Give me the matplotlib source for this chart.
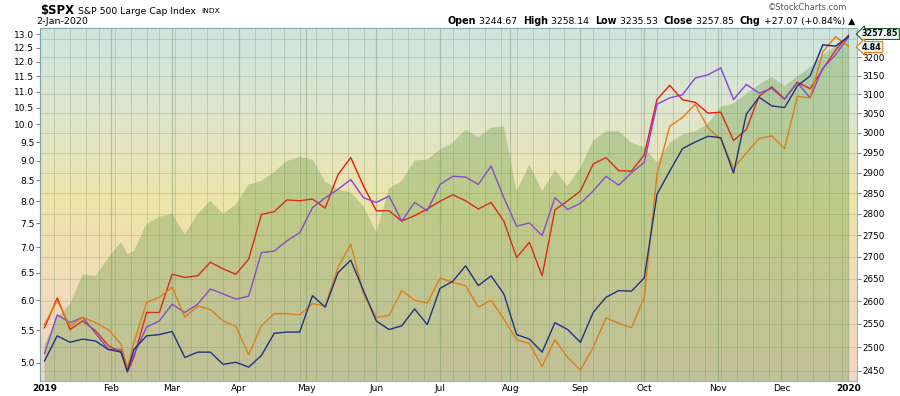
import numpy as np
import pandas as pd
import matplotlib
matplotlib.use("Agg")
import matplotlib.pyplot as plt
from matplotlib.colors import LinearSegmentedColormap

plt.rcParams['font.family'] = ['DejaVu Sans']

# ---------------- data ----------------
holidays = ['2019-01-21', '2019-02-18', '2019-04-19', '2019-05-27', '2019-07-04',
            '2019-09-02', '2019-11-28', '2019-12-25', '2020-01-01']
sample_idx = sorted(list(range(0, 253, 4)) + [26])   # trading-day positions of samples

spx = [2506, 2564, 2593, 2660, 2656, 2698, 2733, 2706, 2713, 2776, 2793, 2800, 2752, 2800,
       2831, 2800, 2823, 2871, 2880, 2902, 2929, 2939, 2933, 2878, 2859, 2851, 2819, 2756,
       2861, 2880, 2930, 2933, 2958, 2975, 3008, 2989, 3013, 3017, 2855, 2920, 2855, 2906,
       2868, 2912, 2980, 3004, 3004, 2975, 2963, 2925, 2975, 2996, 3004, 3023, 3067, 3076,
       3101, 3126, 3146, 3122, 3148, 3172, 3206, 3229, 3257.85]

red = [5.54, 6.04, 5.51, 5.65, 5.49, 5.26, 5.16, 4.87, 5.08, 5.79, 5.79, 6.47, 6.41, 6.44,
       6.70, 6.57, 6.47, 6.76, 7.70, 7.76, 8.03, 8.01, 8.05, 7.84, 8.64, 9.08, 8.36, 7.78,
       7.78, 7.55, 7.67, 7.82, 8.00, 8.15, 8.01, 7.82, 7.97, 7.55, 6.79, 7.10, 6.44, 7.80,
       8.01, 8.24, 8.91, 9.08, 8.74, 8.73, 9.15, 10.75, 11.2, 10.74, 10.66, 10.33, 10.36,
       9.54, 9.85, 10.85, 11.15, 10.77, 11.3, 11.09, 11.74, 12.41, 12.95]

purple = [5.14, 5.75, 5.62, 5.71, 5.45, 5.20, 5.20, 4.88, 5.12, 5.55, 5.65, 5.93, 5.79, 5.93,
          6.20, 6.11, 6.02, 6.07, 6.89, 6.92, 7.13, 7.30, 7.85, 8.08, 8.28, 8.52, 8.08, 7.97,
          8.12, 7.55, 7.97, 7.78, 8.40, 8.60, 8.58, 8.40, 8.86, 8.08, 7.44, 7.51, 7.24, 8.08,
          7.81, 7.95, 8.24, 8.60, 8.38, 8.69, 8.95, 10.6, 10.8, 10.9, 11.44, 11.55, 11.78,
          10.75, 11.23, 10.95, 11.1, 10.75, 11.29, 10.8, 11.78, 12.24, 12.88]

orange = [5.59, 6.00, 5.56, 5.71, 5.62, 5.51, 5.28, 4.93, 5.30, 5.96, 6.05, 6.23, 5.71, 5.90,
          5.84, 5.65, 5.56, 5.12, 5.57, 5.77, 5.77, 5.75, 5.94, 5.90, 6.60, 7.06, 6.11, 5.71,
          5.74, 6.17, 6.00, 5.95, 6.40, 6.32, 6.26, 5.88, 6.00, 5.68, 5.35, 5.29, 4.95, 5.35,
          5.08, 4.90, 5.23, 5.70, 5.61, 5.54, 6.05, 8.64, 9.95, 10.2, 10.6, 9.9, 9.57, 8.8,
          9.2, 9.6, 9.67, 9.32, 10.85, 10.8, 12.35, 12.9, 12.55]

navy = [5.03, 5.41, 5.31, 5.36, 5.33, 5.20, 5.16, 4.88, 5.20, 5.41, 5.43, 5.48, 5.08, 5.16,
        5.16, 4.98, 5.01, 4.94, 5.11, 5.45, 5.47, 5.47, 6.08, 5.88, 6.50, 6.74, 6.17, 5.65,
        5.51, 5.57, 5.85, 5.59, 6.21, 6.34, 6.63, 6.26, 6.44, 6.11, 5.43, 5.36, 5.16, 5.62,
        5.51, 5.31, 5.79, 6.05, 6.17, 6.16, 6.40, 8.16, 8.73, 9.32, 9.50, 9.66, 9.62, 8.68,
        10.3, 10.82, 10.55, 10.5, 11.18, 11.51, 12.6, 12.55, 12.9]

left_ticks = [5.0, 5.5, 6.0, 6.5, 7.0, 7.5, 8.0, 8.5, 9.0, 9.5, 10.0, 10.5, 11.0, 11.5,
              12.0, 12.5, 13.0]
right_ticks = [2450, 2500, 2550, 2600, 2650, 2700, 2750, 2800, 2850, 2900, 2950, 3000,
               3050, 3100, 3150, 3200]
month_labels = ['2019', 'Feb', 'Mar', 'Apr', 'May', 'Jun', 'Jul', 'Aug', 'Sep', 'Oct',
                'Nov', 'Dec', '2020']

# ---------------- calendar ----------------
days = pd.bdate_range('2019-01-02', '2020-01-02')
days = days[~days.isin(pd.to_datetime(holidays))]
n = len(days)
pos = np.arange(n)
month_start = [0] + [i for i in range(1, n) if days[i].month != days[i - 1].month]
week_start = [0] + [i for i in range(1, n) if days[i].isocalendar()[1] != days[i - 1].isocalendar()[1]]

# ---------------- figure ----------------
W, H = 900, 396
fig = plt.figure(figsize=(W / 100, H / 100), dpi=100)
rect = [40 / W, 15 / H, 817 / W, 353 / H]

bg = fig.add_axes(rect, zorder=-1)
cmap = LinearSegmentedColormap.from_list('bg', [
    (0.0, '#cde5df'), (0.25, '#dfe6cc'), (0.5, '#eee4aa'), (0.72, '#f2dcb8'), (1.0, '#f1d6c4')])
bg.imshow(np.linspace(0, 1, 256).reshape(-1, 1), aspect='auto', cmap=cmap,
          extent=[0, 1, 0, 1], origin='upper')
bg.axis('off')

LEFT_LIM = (4.745, 13.23)
RIGHT_LIM = (2429, 3280)

ax = fig.add_axes(rect, zorder=0)
ax.patch.set_visible(False)
ax.set_yscale('log')
ax.set_ylim(*LEFT_LIM)
ax.set_xlim(-1.41, 254.7)

ax2 = ax.twinx()
ax2.set_yscale('log')
ax2.set_ylim(*RIGHT_LIM)
ax2.patch.set_visible(False)

xs = pos[sample_idx]
area_col = '#6a9e4a'

# price area underneath lines
ax2.fill_between(xs, spx, 2000, color=area_col, alpha=0.24, lw=0, zorder=1)

# grid (vertical weekly / monthly, horizontal on price ticks)
for i in week_start:
    if i not in month_start:
        ax2.axvline(i, color='#6d8c6a', lw=0.6, alpha=0.33, zorder=0.5)
for i in month_start[1:]:
    ax2.axvline(i, color='#6d8c6a', lw=0.9, alpha=0.42, zorder=0.5)
for t in right_ticks + [3250]:
    ax2.axhline(t, color='#6d8c6a', lw=0.6, alpha=0.33, zorder=0.5)

# lines: left-scale values mapped onto the twin (log to log) so they sit between area layers
def to_right(v):
    lo, hi = np.log(LEFT_LIM[0]), np.log(LEFT_LIM[1])
    plo, phi = np.log(RIGHT_LIM[0]), np.log(RIGHT_LIM[1])
    return np.exp(plo + (np.log(np.asarray(v)) - lo) / (hi - lo) * (phi - plo))

for vals, col in ((red, '#e81a10'), (purple, '#8a40e0'), (orange, '#f07a10'), (navy, '#14208a')):
    ax2.plot(xs, to_right(vals), color=col, lw=1.0, zorder=2)

# faint overlay of the area on top of the lines
ax2.fill_between(xs, spx, 2000, color=area_col, alpha=0.15, lw=0, zorder=3)

# ticks
ax.set_yticks(left_ticks)
ax.set_yticklabels(['%.1f' % v for v in left_ticks])
ax.yaxis.set_minor_locator(plt.NullLocator())
ax2.set_yticks(right_ticks)
ax2.set_yticklabels([str(v) for v in right_ticks])
ax2.yaxis.set_minor_locator(plt.NullLocator())
ax.set_xticks(month_start)
ax.set_xticklabels(month_labels)
for lbl in ax.get_xticklabels():
    if lbl.get_text() in ('2019', '2020'):
        lbl.set_fontweight('bold')
ax.tick_params(axis='y', length=3, width=0.6, color='#666666', labelsize=6.5, pad=1)
ax2.tick_params(axis='y', length=3, width=0.6, color='#666666', labelsize=6.3, pad=1)
ax.tick_params(axis='x', length=0, labelsize=6.5, pad=2)
ax2.tick_params(axis='x', length=0)

for a in (ax, ax2):
    a.spines['left'].set_color('#7fa3ad')
    a.spines['top'].set_color('#93aeb4')
    a.spines['bottom'].set_color('#8cbccc')
    a.spines['bottom'].set_linestyle((0, (1, 1)))
    a.spines['right'].set_color('#8cbccc')
    a.spines['right'].set_linestyle((0, (1, 1)))
    for s in a.spines.values():
        s.set_linewidth(0.8)

# ---------------- header text ----------------
fig.text(40 / W, 1 - 10.5 / H, '$SPX', fontsize=8.4, fontweight='bold', va='center', ha='left')
fig.text(78 / W, 1 - 11 / H, 'S&P 500 Large Cap Index', fontsize=6.7, va='center', ha='left')
fig.text(201 / W, 1 - 11 / H, 'INDX', fontsize=5.4, va='center', ha='left')
fig.text(36 / W, 1 - 21.5 / H, '2-Jan-2020', fontsize=6.8, va='center', ha='left')
fig.text(847 / W, 1 - 8 / H, '\u00a9StockCharts.com', fontsize=6.0, va='center', ha='right',
         color='#555555')

pieces = [('Open', True), (' 3244.67  ', False), ('High', True), (' 3258.14  ', False),
          ('Low', True), (' 3235.53  ', False), ('Close', True), (' 3257.85  ', False),
          ('Chg', True), (' +27.07 (+0.84%) \u25b2', False)]
fig.canvas.draw()
r = fig.canvas.get_renderer()
texts = []
for s, b in pieces:
    t = fig.text(0, 1 - 21.5 / H, s, fontsize=6.9 if b else 6.7,
                 fontweight='bold' if b else 'normal', va='center', ha='left')
    texts.append(t)
widths = [t.get_window_extent(r).width for t in texts]
x = 855 - sum(widths)
for t, w in zip(texts, widths):
    t.set_x(x / W)
    x += w

# right value flags
fig.text(862 / W, 1 - 34 / H, '3257.85', fontsize=5.8, fontweight='bold', va='center',
         ha='left', bbox=dict(boxstyle='larrow,pad=0.12', fc='#eef8f2', ec='#1d5a2a', lw=0.8))
fig.text(862 / W, 1 - 47 / H, '4.84', fontsize=5.8, fontweight='bold', va='center',
         ha='left', bbox=dict(boxstyle='larrow,pad=0.12', fc='#e4f6f8', ec='#f07808', lw=0.8))

fig.savefig('out.png', dpi=100)
